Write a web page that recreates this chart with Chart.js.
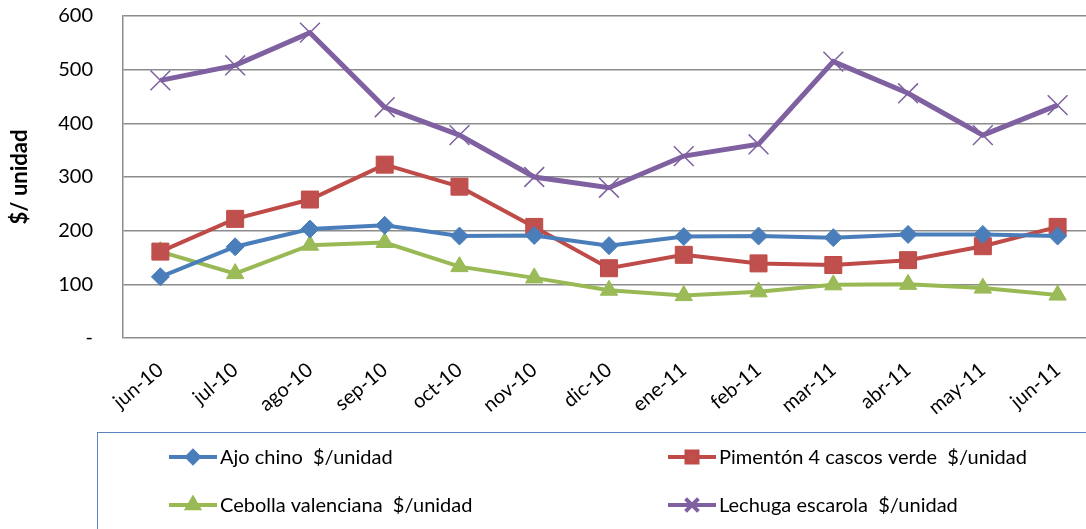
<!DOCTYPE html>
<html>
<head>
<meta charset="utf-8">
<script src="https://cdn.jsdelivr.net/npm/chart.js@4.4.1/dist/chart.umd.min.js"></script>
<style>
  html, body { margin: 0; padding: 0; background: #fff; overflow: hidden; }
  #wrap { position: relative; width: 1100px; height: 529px; }
</style>
</head>
<body>
<div id="wrap"><canvas id="preciosChart"></canvas></div>
<script>
// Datos del gráfico
const meses = ["jun-10", "jul-10", "ago-10", "sep-10", "oct-10", "nov-10", "dic-10",
  "ene-11", "feb-11", "mar-11", "abr-11", "may-11", "jun-11"];
const ajoChino = [114, 170, 203, 210, 190, 191, 172, 189, 190, 187, 193, 193, 190];
const pimentonVerde = [161, 222, 258, 323, 282, 207, 130, 155, 139, 136, 145, 171, 207];
const cebollaValenciana = [161, 120, 173, 178, 133, 112, 89, 79, 86, 99, 100, 93, 80];
const lechugaEscarola = [480, 508, 569, 430, 378, 300, 280, 339, 361, 515, 456, 378, 434];
const ticksY = [0, 100, 200, 300, 400, 500, 600];

const FUENTE = "Lato, 'Open Sans', sans-serif";

// Leyenda dibujada dentro del canvas (caja con dos columnas)
const leyendaCaja = {
  id: "leyendaCaja",
  afterDraw(chart) {
    const ctx = chart.ctx;
    const W = chart.width;
    ctx.save();
    ctx.strokeStyle = "#5b87c0";
    ctx.lineWidth = 1;
    ctx.strokeRect(97.5, 432.5, W, 200);

    const columnas = [169, 668];
    const filas = [457, 505];
    ctx.font = "20px " + FUENTE;
    ctx.textBaseline = "middle";
    chart.data.datasets.forEach((ds, i) => {
      const x = columnas[i % 2];
      const y = filas[Math.floor(i / 2)];
      ctx.strokeStyle = ds.borderColor;
      ctx.lineWidth = 4;
      ctx.beginPath();
      ctx.moveTo(x, y);
      ctx.lineTo(x + 48, y);
      ctx.stroke();
      ctx.fillStyle = ds.backgroundColor;
      Chart.helpers.drawPoint(ctx, {
        pointStyle: ds.pointStyle,
        radius: ds.pointRadius * 0.65,
        borderWidth: ds.pointBorderWidth,
        rotation: 0
      }, x + 24, y);
      ctx.fillStyle = "#000";
      ctx.fillText(ds.label, x + 51, y + 1);
    });
    ctx.restore();
  }
};

new Chart(document.getElementById("preciosChart"), {
  type: "line",
  data: {
    labels: meses,
    datasets: [
      {
        label: "Ajo chino  $/unidad",
        data: ajoChino,
        borderColor: "#4a7ebb",
        backgroundColor: "#4a7ebb",
        borderWidth: 4,
        pointStyle: "rectRot",
        pointRadius: 9,
        pointBorderWidth: 1,
        pointBorderColor: "#4a7ebb",
      },
      {
        label: "Pimentón 4 cascos verde  $/unidad",
        data: pimentonVerde,
        borderColor: "#be4b48",
        backgroundColor: "#c0504d",
        borderWidth: 4,
        pointStyle: "rect",
        pointRadius: 12,
        pointBorderWidth: 1,
        pointBorderColor: "#be4b48",
      },
      {
        label: "Cebolla valenciana  $/unidad",
        data: cebollaValenciana,
        borderColor: "#98b954",
        backgroundColor: "#9bbb59",
        borderWidth: 4,
        pointStyle: "triangle",
        pointRadius: 10,
        pointBorderWidth: 1,
        pointBorderColor: "#98b954",
      },
      {
        label: "Lechuga escarola  $/unidad",
        data: lechugaEscarola,
        borderColor: "#7f60a0",
        backgroundColor: "#7f60a0",
        borderWidth: 5,
        pointStyle: "crossRot",
        pointRadius: 14,
        pointBorderWidth: 1.5,
        pointBorderColor: "#7f60a0",
      },
    ],
  },
  options: {
    responsive: true,
    maintainAspectRatio: false,
    animation: false,
    layout: {
      autoPadding: false,
      padding: { top: 16, bottom: 97, left: 0, right: 5 },
    },
    plugins: {
      legend: { display: false },
      tooltip: { enabled: false },
    },
    scales: {
      x: {
        offset: true,
        grid: { display: false },
        border: { display: false },
        ticks: {
          color: "#000",
          font: { family: FUENTE, size: 20 },
          minRotation: 40,
          maxRotation: 40,
          autoSkip: false,
          padding: 12,
        },
        afterFit: (scale) => { scale.height = 94; },
      },
      y: {
        min: ticksY[0],
        max: ticksY[ticksY.length - 1],
        afterBuildTicks: (scale) => { scale.ticks = ticksY.map((v) => ({ value: v })); },
        grid: {
          color: "#8c8c8c",
          lineWidth: 1.5,
          drawTicks: true,
          tickLength: 30,
          tickColor: "rgba(0,0,0,0)",
        },
        border: { display: true, color: "#8c8c8c", width: 1.5 },
        ticks: {
          color: "#000",
          font: { family: FUENTE, size: 20 },
          padding: 0,
          callback: (v) => (v === 0 ? "-" : v),
        },
        title: {
          display: true,
          text: "$/ unidad",
          color: "#000",
          font: { family: FUENTE, size: 22, weight: "bold" },
          padding: { top: 7, bottom: 0 },
        },
        afterFit: (scale) => { scale.width = 123; },
      },
    },
  },
  plugins: [leyendaCaja],
});
</script>
</body>
</html>
